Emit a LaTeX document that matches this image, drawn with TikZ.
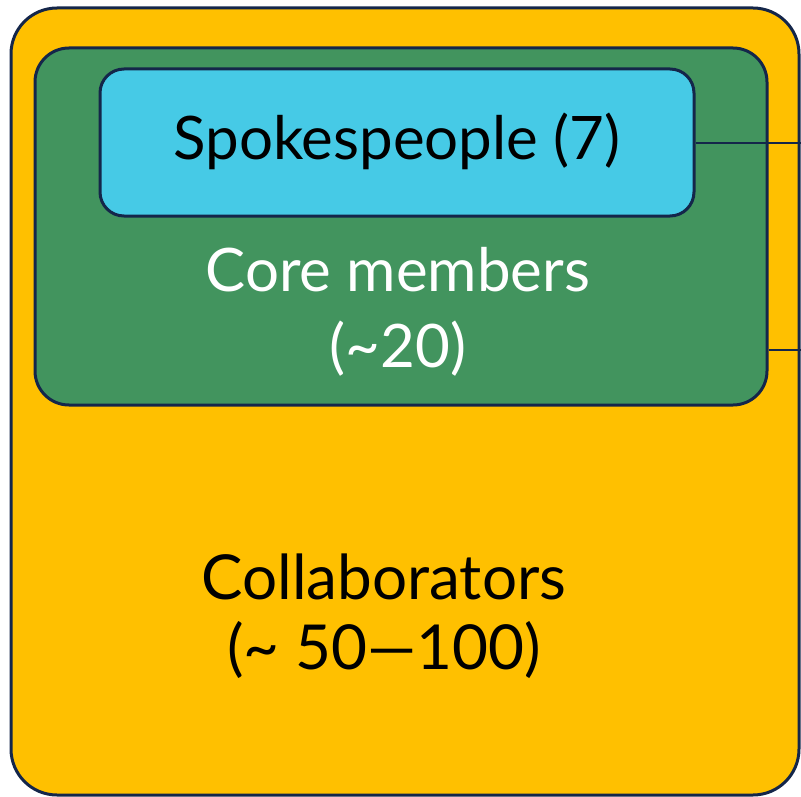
\documentclass[tikz,border=0pt]{standalone}
\usepackage{fontspec}
\setmainfont{Lato}
\definecolor{navy}{HTML}{14264A}
\definecolor{gold}{HTML}{FFC000}
\definecolor{moss}{HTML}{42945E}
\definecolor{sky}{HTML}{46CAE6}
\tikzset{
  tier/.style={shape=rectangle, draw=navy, line width=3pt, inner sep=0pt},
  lbl/.style={shape=rectangle, draw=none, align=center, font=\fontsize{60}{76}\selectfont},
  link/.style={draw=navy, line width=2pt}
}
\begin{document}
\begin{tikzpicture}[x=1pt, y=-1pt]
%%%%%%%%%%%%%%%%%%%%%%%%%%%%%%%%%%%%%%%%%%% HELP LINES
%\draw[help lines, step=50] (0,0) grid (801,797);
\useasboundingbox (0,0) rectangle (801,797);
\clip (0,0) rectangle (801,797);

%%%%%%%%%%%%%%%%%%%%%%%%%%%%%%%%%%%%%%%%%%% tiers
\node[tier, fill=gold, rounded corners=46pt, minimum width=788pt, minimum height=787pt](collab) at (405,401.5){};
\node[tier, fill=moss, rounded corners=34pt, minimum width=732pt, minimum height=357pt](core) at (401,226.5){};
\node[tier, fill=sky, rounded corners=24pt, minimum width=594pt, minimum height=147pt](spokes) at (397,142.5){};

%%%%% labels
\node[lbl](spokeslbl) at (397,141){Spokespeople (7)};
\node[lbl, text=white](corelbl) at (398,312){Core members\\(\textasciitilde20)};
\node[lbl, font=\fontsize{62}{70}\selectfont](collablbl) at (384,616){Collaborators\\(\textasciitilde{} 50—100)};

%%%%% links leaving to the right
\coordinate (spokesout) at (801,143);
\coordinate (coreout) at (801,350);
\draw[link] (spokes.east |- spokesout) -- (spokesout);
\draw[link] (core.east |- coreout) -- (coreout);
\end{tikzpicture}
\end{document}
